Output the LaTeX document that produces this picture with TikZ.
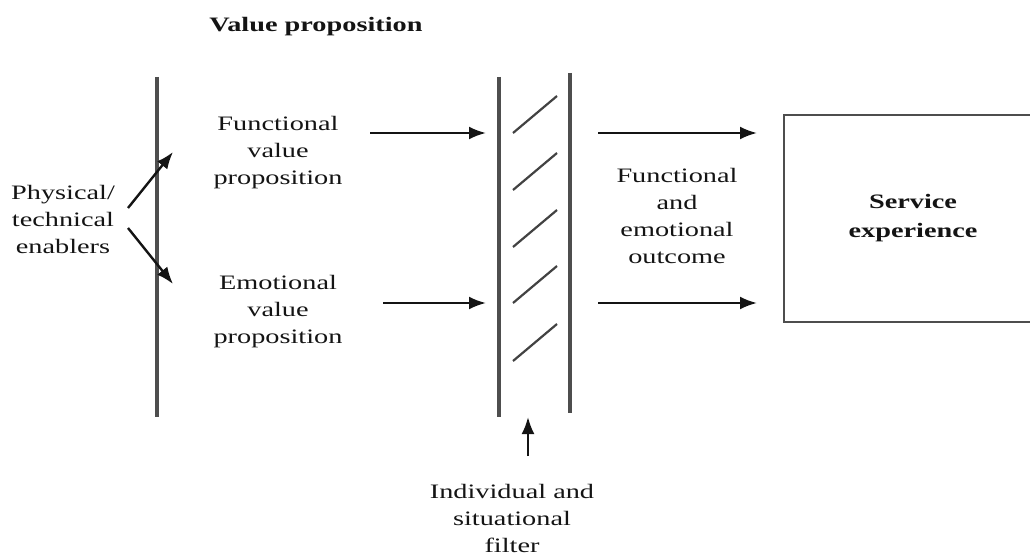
\documentclass[tikz,border=0pt]{standalone}
\usepackage{fontspec}
\setmainfont{Liberation Serif}[FakeStretch=1.38]
\usetikzlibrary{arrows.meta}
\definecolor{rule}{RGB}{78,78,78}
\definecolor{ink}{RGB}{20,20,20}
\tikzset{
  lbl/.style={align=center, inner sep=0pt, text=ink, font=\fontsize{20.5}{27}\selectfont},
  bold/.style={lbl, font=\fontsize{20.5}{29}\selectfont\bfseries},
  bar/.style={draw=rule, line width=3.2pt},
  hatch/.style={draw=rule!85!black, line width=2.2pt},
  flow/.style={draw=ink, line width=2.4pt, -{Latex[length=17pt,width=13pt]}},
}
\begin{document}
\begin{tikzpicture}[x=1pt,y=-1pt]
  \useasboundingbox (0,0) rectangle (1030,556);
  \clip (0,0) rectangle (1030,556);

  % headings and labels
  \node[bold] (title) at (316,27) {Value proposition};
  \node[lbl] (enab) at (63,219) {Physical/\\technical\\enablers};
  \node[lbl] (fvp) at (278,153) {Functional\\value\\proposition};
  \node[lbl] (evp) at (278,312) {Emotional\\value\\proposition};
  \node[lbl] (out) at (677,216) {Functional\\and\\emotional\\outcome};
  \node[lbl] (filt) at (512,518) {Individual and\\situational\\filter};
  \node[bold] (serv) at (913,218) {Service\\experience};

  % service experience box, open past the right margin
  \draw[bar, line width=2.8pt] (1040,115) -- (784,115) -- (784,322) -- (1040,322);

  % enabler bar and filter bars
  \coordinate (eT) at (157,77);  \coordinate (eB) at (157,417);
  \draw[bar] (eT) -- (eB);
  \coordinate (fLT) at (499,77); \coordinate (fLB) at (499,417);
  \coordinate (fRT) at (570,73); \coordinate (fRB) at (570,413);
  \draw[bar] (fLT) -- (fLB);
  \draw[bar] (fRT) -- (fRB);

  % hatching inside the filter
  \foreach \y in {133,190,247,303,361}
    \draw[hatch] (513,\y) -- (557,\y-37);

  % enabler arrows
  \coordinate (eo1) at (128,208); \coordinate (ei1) at (173,152);
  \coordinate (eo2) at (128,228); \coordinate (ei2) at (173,284);
  \draw[flow] (eo1) -- (ei1);
  \draw[flow] (eo2) -- (ei2);

  % into the filter
  \coordinate (a1s) at (370,133); \coordinate (a1e) at (486,133);
  \coordinate (a2s) at (383,303); \coordinate (a2e) at (486,303);
  \draw[flow] (a1s) -- (a1e);
  \draw[flow] (a2s) -- (a2e);

  % out of the filter to the service experience
  \coordinate (b1s) at (598,133); \coordinate (b1e) at (757,133);
  \coordinate (b2s) at (598,303); \coordinate (b2e) at (757,303);
  \draw[flow] (b1s) -- (b1e);
  \draw[flow] (b2s) -- (b2e);

  % filter influence arrow
  \coordinate (fs) at (528,456); \coordinate (fe) at (528,417);
  \draw[flow] (fs) -- (fe);
\end{tikzpicture}
\end{document}
